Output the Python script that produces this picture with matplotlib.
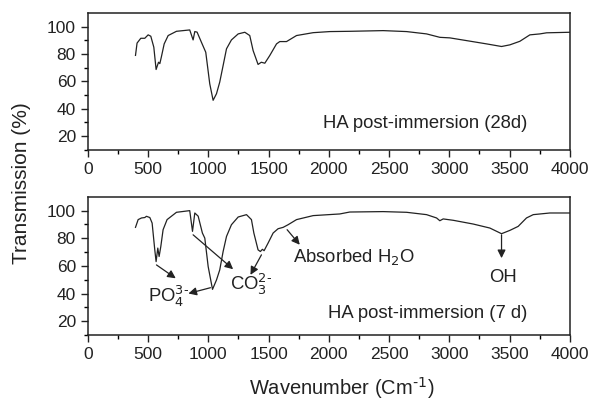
import matplotlib.pyplot as plt

plt.rcParams['font.family'] = ['Liberation Sans', 'DejaVu Sans']

# FTIR spectrum, 28 days
wn_28d = [396, 409, 440, 473, 501, 523, 548, 567, 587, 598, 611, 634, 667, 736,
          846, 874, 888, 907, 943, 979, 1012, 1040, 1068, 1095, 1123, 1151, 1192,
          1248, 1303, 1344, 1372, 1413, 1440, 1469, 1510, 1566, 1593, 1649, 1732,
          1870, 2008, 2174, 2451, 2645, 2811, 2921, 3004, 3143, 3309, 3433, 3502,
          3585, 3668, 3751, 3807, 4000]
tr_28d = [79, 88, 91.5, 91.5, 94, 93, 85, 68.7, 74, 73, 78, 87.4, 93.5, 96.6,
          97.6, 90.3, 96.4, 96, 88.6, 81.3, 58.3, 46.2, 51, 59.5, 71.6, 83.8, 90.3,
          94.7, 95.9, 93.5, 82.5, 72.4, 74, 73.3, 78.9, 87.4, 89.1, 89.1, 93.5,
          95.6, 96.4, 96.6, 97.1, 96.4, 94.7, 92.2, 91.8, 89.8, 87.4, 85.5, 86.7,
          89.3, 94, 94.7, 95.5, 95.9]

# FTIR spectrum, 7 days
wn_7d = [396, 418, 446, 473, 487, 515, 534, 556, 567, 581, 592, 606, 625, 658,
         736, 846, 869, 888, 916, 951, 971, 999, 1035, 1068, 1095, 1123, 1151,
         1192, 1248, 1317, 1358, 1378, 1413, 1432, 1449, 1463, 1496, 1538, 1579,
         1621, 1662, 1732, 1870, 2091, 2174, 2451, 2645, 2811, 2894, 2921, 2949,
         3033, 3198, 3336, 3433, 3502, 3571, 3640, 3696, 3834, 4000]
tr_7d = [87.9, 93.5, 94.7, 95, 95.9, 95, 91, 71.6, 63.1, 72.9, 66.8, 74, 86.2, 93.5,
         98.8, 100, 85, 98.3, 96, 83.8, 80.1, 59.5, 43, 49.8, 57.1, 70.4, 81.3,
         89.8, 95.4, 97.1, 93.5, 83.8, 71.6, 70.4, 72, 71, 76.5, 83.8, 86.9,
         87.9, 89.8, 93.5, 96.4, 97.6, 99, 99.3, 98.8, 97.1, 94.7, 92.7, 94,
         93, 90.3, 87.4, 83.3, 85.7, 88.6, 94.7, 97.1, 98.3, 98.3]

x_ticks = [0, 500, 1000, 1500, 2000, 2500, 3000, 3500, 4000]
y_ticks = [20, 40, 60, 80, 100]

ink = '#222222'
fig = plt.figure(figsize=(5.93, 4.05), dpi=100)
ax1 = fig.add_axes([0.148, 0.630, 0.813, 0.338])
ax2 = fig.add_axes([0.148, 0.173, 0.813, 0.341])

for ax in (ax1, ax2):
    ax.set_xlim(0, 4000)
    ax.set_ylim(10, 110)
    ax.set_xticks(x_ticks)
    ax.set_xticks([250 + 500 * i for i in range(8)], minor=True)
    ax.set_yticks(y_ticks)
    ax.set_yticks([10, 30, 50, 70, 90], minor=True)
    ax.tick_params(direction='out', length=5, width=1, labelsize=12.5, colors=ink)
    ax.tick_params(which='minor', direction='out', length=3, width=1)
    for s in ax.spines.values():
        s.set_linewidth(1.1)
        s.set_color(ink)

ax1.plot(wn_28d, tr_28d, color=ink, lw=0.9)
ax2.plot(wn_7d, tr_7d, color=ink, lw=0.9)

fs = 13.3
ax1.text(1948, 25.8, 'HA post-immersion (28d)', ha='left', va='baseline', fontsize=fs, color=ink)
ax2.text(1992, 22.2, 'HA post-immersion (7 d)', ha='left', va='baseline', fontsize=fs, color=ink)

arrow = dict(arrowstyle='-|>', color=ink, lw=0.9, mutation_scale=12, shrinkA=0, shrinkB=0)

ax2.text(500, 33.8, r'PO$_4^{3\text{-}}$', ha='left', va='baseline', fontsize=fs, color=ink)
ax2.annotate('', xy=(730, 51), xytext=(570, 60.7), arrowprops=arrow)
ax2.annotate('', xy=(835, 40), xytext=(1018, 44.2), arrowprops=arrow)

ax2.text(1178, 42.5, r'CO$_3^{2\text{-}}$', ha='left', va='baseline', fontsize=fs, color=ink)
ax2.annotate('', xy=(1206, 57.6), xytext=(874, 82.5), arrowprops=arrow)
ax2.annotate('', xy=(1350, 53.5), xytext=(1441, 68), arrowprops=arrow)

ax2.text(1701, 62.9, r'Absorbed H$_2$O', ha='left', va='baseline', fontsize=fs, color=ink)
ax2.annotate('', xy=(1759, 75.3), xytext=(1654, 86.2), arrowprops=arrow)

ax2.text(3444, 48.4, 'OH', ha='center', va='baseline', fontsize=fs, color=ink)
ax2.annotate('', xy=(3433, 65.6), xytext=(3433, 82.5), arrowprops=arrow)

ax2.set_xlabel(r'Wavenumber (Cm$^{\text{-}1}$)', fontsize=14.5, color=ink)
ax2.xaxis.set_label_coords(0.527, -0.29)
fig.text(0.036, 0.548, 'Transmission (%)', rotation=90, ha='center', va='center',
         fontsize=15, color=ink)

fig.savefig('out.png', dpi=100)
